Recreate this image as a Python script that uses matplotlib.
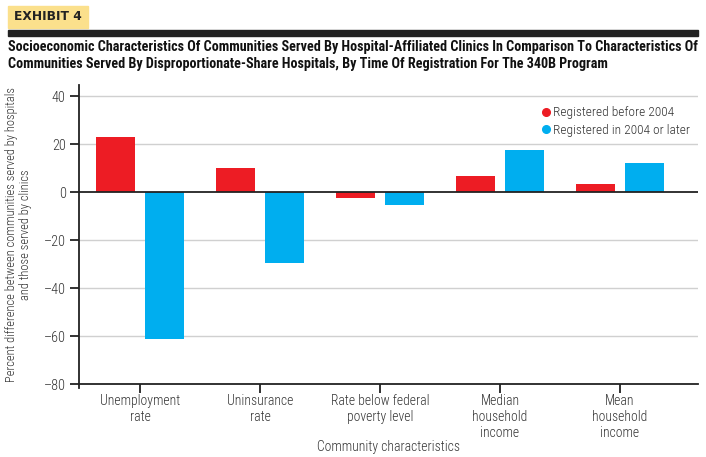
import matplotlib
matplotlib.use("Agg")
import matplotlib.pyplot as plt
import numpy as np
from matplotlib.lines import Line2D
from matplotlib.patches import Rectangle
import warnings
warnings.filterwarnings("ignore")

categories = ["Unemployment\nrate", "Uninsurance\nrate", "Rate below federal\npoverty level",
              "Median\nhousehold\nincome", "Mean\nhousehold\nincome"]
before_2004 = [23.0, 10.0, -2.5, 6.7, 3.3]
after_2004 = [-61.3, -29.6, -5.4, 17.5, 12.0]
series_names = ["Registered before 2004", "Registered in 2004 or later"]
yticks = [-80, -60, -40, -20, 0, 20, 40]

RED = "#ED1C24"
BLUE = "#00AEEF"
FONT = ["Roboto Condensed", "Barlow Semi Condensed", "IBM Plex Sans Condensed", "DejaVu Sans"]
plt.rcParams['font.family'] = FONT
TXT = "#333333"
LW = "light"
FS = 9.8

fig = plt.figure(figsize=(7.06, 4.57), dpi=100)
ax = fig.add_axes([79/706, 1-384/457, (698-79)/706, (384-85)/457])

x = np.arange(len(categories))
w = 0.33
ax.bar(x - 0.205, before_2004, w, color=RED, zorder=3)
ax.bar(x + 0.205, after_2004, w, color=BLUE, zorder=3)

ax.set_xlim(-0.508, 4.65)
ax.set_ylim(-80, 44.6)
ax.set_yticks(yticks)
ax.set_yticklabels([str(t) if t >= 0 else "\u2013" + str(-t) for t in yticks], color=TXT,
                   fontsize=FS + 0.5, fontweight=LW)
ax.set_xticks(x)
ax.set_xticklabels(categories, fontsize=FS, color=TXT, linespacing=1.15, fontweight=LW)
for t in [-60, -40, -20, 20, 40]:
    ax.axhline(t, color="#d0d0d0", lw=1, zorder=1)
ax.axhline(0, color="#222222", lw=1.3, zorder=4)

for s in ["top", "right"]:
    ax.spines[s].set_visible(False)
ax.spines["left"].set_color("#222222")
ax.spines["bottom"].set_color("#222222")
ax.spines["left"].set_linewidth(1.3)
ax.spines["bottom"].set_linewidth(1.3)
ax.spines["left"].set_bounds(-81.7, 44.6)
ax.tick_params(axis="both", length=6.5, width=1.3, color="#222222", pad=3)
ax.tick_params(axis="x", pad=1)

fig.text(388/706, 1-447/457, "Community characteristics", fontsize=FS, color=TXT, fontweight=LW,
         ha="center", va="center")
ax.set_ylabel("Percent difference between communities served by hospitals\nand those served by clinics",
              fontsize=9.0, color=TXT, linespacing=1.05, fontweight=LW)
ax.yaxis.set_label_coords(-0.076, 0.5)

handles = [Line2D([], [], marker="o", ls="", color=RED, markersize=5.5),
           Line2D([], [], marker="o", ls="", color=BLUE, markersize=5.5)]
leg = ax.legend(handles, series_names, loc="upper right", bbox_to_anchor=(1.0, 0.955), frameon=False,
                prop={"size": 9.6, "weight": LW}, handletextpad=0.05, labelspacing=0.32,
                borderaxespad=0.2, handlelength=1)
for t in leg.get_texts():
    t.set_color(TXT)

# Header
fig.patches.append(Rectangle((8/706, 1-28/457), 80/706, 22/457, transform=fig.transFigure,
                             color="#FBE08C", zorder=0))
fig.text(14/706, 1-17/457, "EXHIBIT 4", fontsize=8.8, fontweight="heavy", va="center", ha="left",
         color="#222222", family=["DejaVu Sans"])
fig.patches.append(Rectangle((8/706, 1-36/457), 690/706, 6/457, transform=fig.transFigure,
                             color="#222222", zorder=0))
fig.text(8/706, 1-47/457, "Socioeconomic Characteristics Of Communities Served By Hospital-Affiliated Clinics In Comparison To Characteristics Of",
         fontsize=10.2, fontweight="bold", va="center", ha="left", color="#111111")
fig.text(8/706, 1-64/457, "Communities Served By Disproportionate-Share Hospitals, By Time Of Registration For The 340B Program",
         fontsize=10.2, fontweight="bold", va="center", ha="left", color="#111111")

fig.savefig("out.png", dpi=100)
